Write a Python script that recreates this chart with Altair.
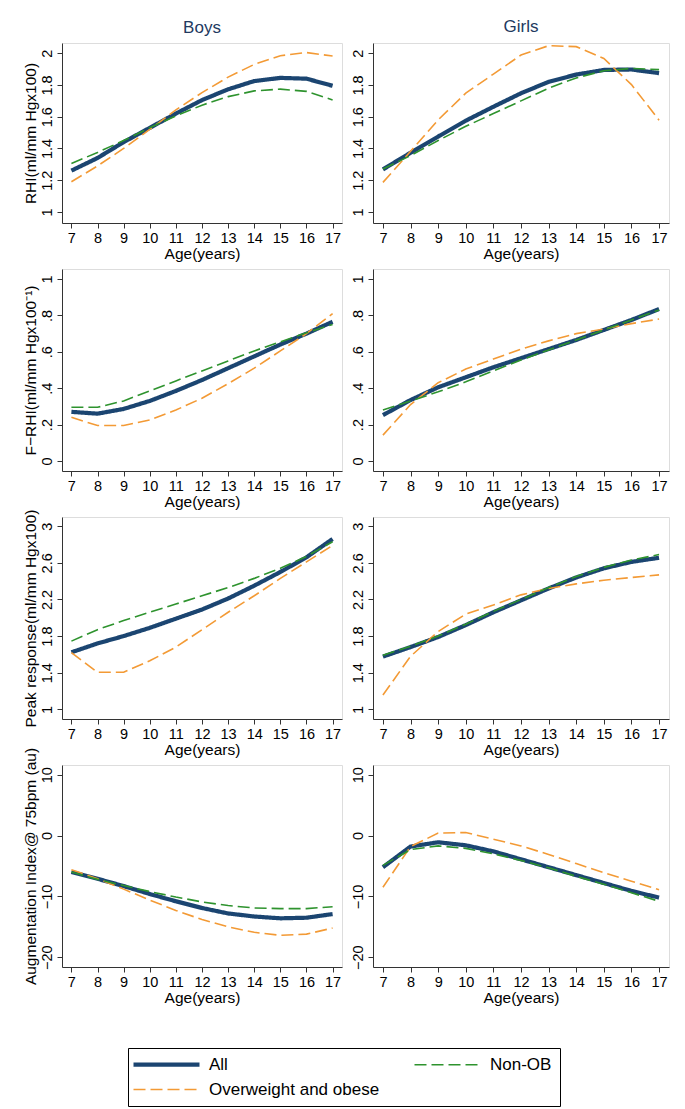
import altair as alt
import pandas as pd

ages = list(range(7, 18))
series_names = ["All", "Non-OB", "Overweight and obese"]
series_colors = ["#1b4571", "#2e932e", "#f39a35"]

# ---- Boys RHI
boys_rhi_all = [1.26, 1.34, 1.44, 1.53, 1.62, 1.705, 1.773, 1.825, 1.845, 1.84, 1.795]
boys_rhi_non = [1.305, 1.375, 1.45, 1.53, 1.605, 1.673, 1.727, 1.763, 1.774, 1.76, 1.706]
boys_rhi_ow = [1.19, 1.29, 1.40, 1.52, 1.643, 1.752, 1.85, 1.93, 1.985, 2.005, 1.983]
# ---- Girls RHI
girls_rhi_all = [1.268, 1.373, 1.475, 1.575, 1.663, 1.748, 1.82, 1.866, 1.895, 1.898, 1.875]
girls_rhi_non = [1.27, 1.355, 1.45, 1.54, 1.62, 1.70, 1.78, 1.845, 1.89, 1.905, 1.897]
girls_rhi_ow = [1.186, 1.382, 1.58, 1.749, 1.869, 1.989, 2.048, 2.042, 1.967, 1.803, 1.578]
# ---- Boys F-RHI
boys_frhi_all = [0.27, 0.26, 0.286, 0.33, 0.385, 0.445, 0.51, 0.575, 0.64, 0.70, 0.765]
boys_frhi_non = [0.295, 0.295, 0.33, 0.385, 0.44, 0.495, 0.55, 0.605, 0.655, 0.705, 0.75]
boys_frhi_ow = [0.24, 0.195, 0.195, 0.225, 0.28, 0.345, 0.425, 0.51, 0.605, 0.70, 0.81]
# ---- Girls F-RHI
girls_frhi_all = [0.252, 0.335, 0.405, 0.46, 0.515, 0.565, 0.615, 0.665, 0.72, 0.775, 0.835]
girls_frhi_non = [0.28, 0.33, 0.38, 0.435, 0.495, 0.555, 0.61, 0.665, 0.72, 0.775, 0.83]
girls_frhi_ow = [0.142, 0.31, 0.43, 0.505, 0.56, 0.615, 0.66, 0.70, 0.725, 0.755, 0.78]
# ---- Boys Peak response
boys_peak_all = [1.623, 1.72, 1.80, 1.89, 1.99, 2.09, 2.21, 2.35, 2.50, 2.66, 2.86]
boys_peak_non = [1.745, 1.87, 1.97, 2.06, 2.15, 2.24, 2.33, 2.43, 2.54, 2.67, 2.83]
boys_peak_ow = [1.62, 1.405, 1.405, 1.53, 1.68, 1.87, 2.06, 2.24, 2.43, 2.61, 2.79]
# ---- Girls Peak response
girls_peak_all = [1.576, 1.68, 1.79, 1.92, 2.06, 2.19, 2.32, 2.44, 2.54, 2.61, 2.655]
girls_peak_non = [1.59, 1.69, 1.80, 1.93, 2.07, 2.20, 2.33, 2.45, 2.55, 2.63, 2.69]
girls_peak_ow = [1.157, 1.579, 1.85, 2.04, 2.14, 2.25, 2.32, 2.37, 2.41, 2.44, 2.468]
# ---- Boys Augmentation Index
boys_aix_all = [-5.98, -7.1, -8.3, -9.6, -10.8, -11.9, -12.8, -13.3, -13.6, -13.5, -12.9]
boys_aix_non = [-6.0, -7.2, -8.2, -9.2, -10.1, -10.9, -11.5, -11.9, -12.0, -12.0, -11.7]
boys_aix_ow = [-5.6, -7.1, -8.8, -10.6, -12.3, -13.8, -15.0, -15.9, -16.4, -16.2, -15.2]
# ---- Girls Augmentation Index
girls_aix_all = [-5.2, -1.8, -1.1, -1.6, -2.6, -3.9, -5.2, -6.5, -7.8, -9.1, -10.2]
girls_aix_non = [-4.9, -2.3, -1.7, -2.1, -3.0, -4.1, -5.3, -6.7, -8.0, -9.4, -10.8]
girls_aix_ow = [-8.5, -1.8, 0.4, 0.5, -0.6, -1.7, -3.1, -4.6, -6.1, -7.5, -8.9]

FONT = "Liberation Sans"
WIDTH_ALL, WIDTH_DASH = 4.2, 1.6


def make_df(all_v, non_v, ow_v):
    rows = []
    for s, vals in zip(series_names, [all_v, non_v, ow_v]):
        for a, v in zip(ages, vals):
            rows.append({"age": a, "value": v, "series": s})
    return pd.DataFrame(rows)


legend_def = alt.Legend(
    title=None, orient="none", legendX=66, legendY=1005, columns=2,
    direction="horizontal",
    symbolType="M-1,0H5", symbolSize=484, labelFont=FONT, labelFontSize=17,
    labelColor="black", labelOffset=56, labelLimit=400, columnPadding=31, rowPadding=7,
    strokeColor="black", padding=8, symbolOpacity=1,
    symbolStrokeWidth=alt.ExprRef(
        expr=f"datum.value === 'All' ? {WIDTH_ALL} : {WIDTH_DASH}"),
)


def panel(df, ydomain, yvalues, ylabelexpr, ytitle, width, height, title=None):
    enc = dict(
        x=alt.X("age:Q", scale=alt.Scale(domain=[6.64, 17.36], nice=False, zero=False),
                axis=alt.Axis(values=ages, title="Age(years)", labelAngle=0,
                              labelFont=FONT, labelFontSize=14.5, titleFont=FONT,
                              titleFontSize=15.5, titleFontWeight="normal",
                              labelColor="black", titleColor="black",
                              domainColor="#333333", tickColor="#333333",
                              tickSize=5, labelPadding=3, titlePadding=2, grid=False)),
        y=alt.Y("value:Q", scale=alt.Scale(domain=ydomain, nice=False, zero=False),
                axis=alt.Axis(values=yvalues, labelExpr=ylabelexpr, title=ytitle,
                              labelAngle=-90, labelFont=FONT, labelFontSize=14.5,
                              titleFont=FONT, titleFontSize=15.5, titleFontWeight="normal",
                              labelColor="black", titleColor="black",
                              domainColor="#333333", tickColor="#333333",
                              tickSize=5, labelPadding=3, titlePadding=1, grid=False)),
        color=alt.Color("series:N", scale=alt.Scale(domain=series_names, range=series_colors),
                        legend=legend_def),
        strokeDash=alt.StrokeDash("series:N", scale=alt.Scale(domain=series_names,
                                  range=[[1, 0], [12, 5], [12, 5]]), legend=legend_def),
    )
    draw_order = ["All", "Overweight and obese", "Non-OB"]
    base = alt.Chart(df)
    layers = [base.transform_filter(alt.datum.series == s)
              .mark_line(strokeWidth=WIDTH_ALL if s == "All" else WIDTH_DASH)
              .encode(**enc)
              for s in draw_order]
    ch = alt.layer(*layers).properties(width=width, height=height)
    if title:
        ch = ch.properties(title=alt.Title(title, font=FONT, fontSize=17,
                                           fontWeight="normal", color="#22395f",
                                           anchor="middle", offset=6))
    return ch


lab_plain = "format(datum.value, '~g')"
lab_frac = "datum.value == 0 ? '0' : datum.value >= 1 ? '1' : '.' + round(datum.value * 10)"

W_L, W_R = 280, 296
H1, H = 180, 202

rhi_vals = [1, 1.2, 1.4, 1.6, 1.8, 2]
frhi_vals = [0, 0.2, 0.4, 0.6, 0.8, 1]
peak_vals = [1, 1.4, 1.8, 2.2, 2.6, 3]
aix_vals = [-20, -10, 0, 10]

rhi_dom = [0.93, 2.065]
frhi_dom = [-0.055, 1.055]
peak_dom = [0.895, 3.1]
aix_dom = [-21.6, 11.6]

panels = [
    panel(make_df(boys_rhi_all, boys_rhi_non, boys_rhi_ow), rhi_dom, rhi_vals, lab_plain,
          "RHI(ml/mm Hgx100)", W_L, H1, "Boys"),
    panel(make_df(girls_rhi_all, girls_rhi_non, girls_rhi_ow), rhi_dom, rhi_vals, lab_plain,
          None, W_R, H1, "Girls"),
    panel(make_df(boys_frhi_all, boys_frhi_non, boys_frhi_ow), frhi_dom, frhi_vals, lab_frac,
          "F\u2212RHI(ml/mm Hgx100\u207b\u00b9)", W_L, H),
    panel(make_df(girls_frhi_all, girls_frhi_non, girls_frhi_ow), frhi_dom, frhi_vals, lab_frac,
          None, W_R, H),
    panel(make_df(boys_peak_all, boys_peak_non, boys_peak_ow), peak_dom, peak_vals, lab_plain,
          "Peak response(ml/mm Hgx100)", W_L, H),
    panel(make_df(girls_peak_all, girls_peak_non, girls_peak_ow), peak_dom, peak_vals, lab_plain,
          None, W_R, H),
    panel(make_df(boys_aix_all, boys_aix_non, boys_aix_ow), aix_dom, aix_vals, lab_plain,
          "Augmentation Index@ 75bpm (au)", W_L, H),
    panel(make_df(girls_aix_all, girls_aix_non, girls_aix_ow), aix_dom, aix_vals, lab_plain,
          None, W_R, H),
]

chart = alt.concat(*panels, columns=2, spacing={"row": 46, "column": 31},
                   bounds="flush").properties(
    padding={"left": 14, "top": 9, "right": 5, "bottom": 5}
).configure_view(stroke=None).configure(background="white")

chart.save("out.html", embed_options={"renderer": "svg", "actions": False})
